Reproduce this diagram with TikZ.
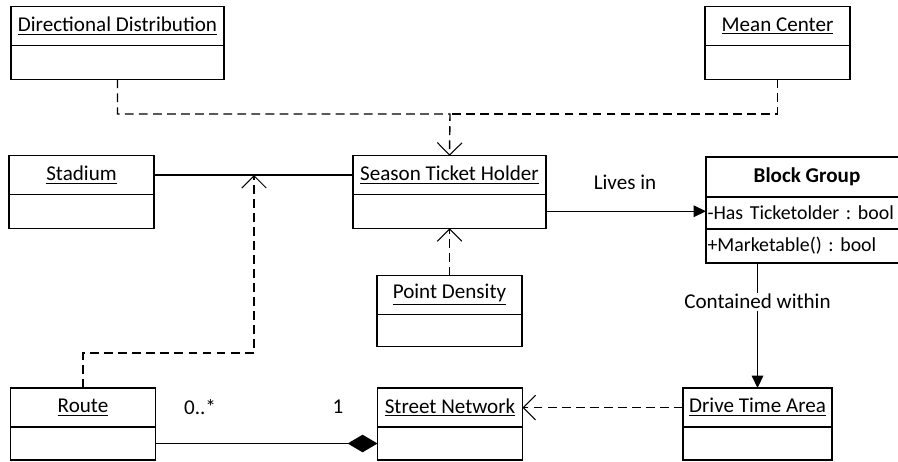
\documentclass[tikz,border=0pt]{standalone}
\usepackage{fontspec}
\setmainfont{Carlito}
\frenchspacing
\usetikzlibrary{positioning,arrows.meta}

\tikzset{
    classname/.style={draw, line width=0.8pt, outer sep=0pt, minimum width=2.9cm,
        minimum height=0.77cm, inner sep=1pt},
    classbody/.style={draw, line width=0.8pt, outer sep=0pt, minimum width=2.9cm,
        minimum height=0.68cm, inner sep=0pt},
    member/.style={font=\fontsize{11.3}{13}\selectfont, align=left, text width=3.98cm},
    depend/.style={line width=0.8pt, dash pattern=on 5pt off 3pt,
        -{Straight Barb[length=7pt,width=14pt,line width=0.6pt]}},
    assoc/.style={line width=0.8pt, -{Triangle[length=7pt,width=6.5pt]}},
    compose/.style={line width=0.8pt, -{Diamond[length=17pt,width=10pt]}},
    every node/.style={font=\fontsize{12}{14}\selectfont}
}

\begin{document}
\begin{tikzpicture}[x=0.02cm, y=-0.02cm]

    \useasboundingbox (0,0) rectangle (898,461);

    \node (dd) [classname, minimum width=4.26cm] at (117.5,26) {\underline{Directional Distribution}};
    \node (dd-b) [classbody, minimum width=4.26cm, below=0pt of dd] {};
    \node (mc) [classname] at (777.5,26) {\underline{Mean Center}};
    \node (mc-b) [classbody, below=0pt of mc] {};
    \node (stadium) [classname] at (81.5,175) {\underline{Stadium}};
    \node (stadium-b) [classbody, below=0pt of stadium] {};
    \node (sth) [classname, minimum width=3.86cm] at (449.5,175) {\underline{Season Ticket Holder}};
    \node (sth-b) [classbody, minimum width=3.86cm, below=0pt of sth] {};
    \node (pd) [classname] at (449.5,295) {\underline{Point Density}};
    \node (pd-b) [classbody, minimum height=0.64cm, below=0pt of pd] {};
    \node (bg) [classname, minimum width=4.04cm, minimum height=0.8cm] at (807,177) {\textbf{Block Group}};
    \node (bg-a) [classbody, member, minimum width=4.04cm, minimum height=0.64cm,
        below=0pt of bg] {\mbox{-Has Ticketolder : bool}};
    \node (bg-m) [classbody, member, minimum width=4.04cm,
        below=0pt of bg-a] {\mbox{+Marketable() : bool}};
    \node (route) [classname, minimum height=0.78cm] at (83,407.5) {\underline{Route}};
    \node (route-b) [classbody, minimum height=0.66cm, below=0pt of route] {};
    \node (sn) [classname, minimum height=0.78cm] at (450,407.5) {\underline{Street Network}};
    \node (sn-b) [classbody, minimum height=0.66cm, below=0pt of sn] {};
    \node (dta) [classname, minimum width=2.98cm, minimum height=0.78cm] at (757.5,407.5) {\underline{Drive Time Area}};
    \node (dta-b) [classbody, minimum width=2.98cm, minimum height=0.66cm, below=0pt of dta] {};

    \coordinate (join) at (450,114);
    \coordinate (tap) at (254,175);
    \coordinate (rbend) at (83,353);

    \node (livesin) at (625,182) {Lives in};
    \node (many) at (200,407) {0..*};
    \node (one) at (338,407) {1};

    \draw[depend] (dd-b.south) |- (join) -- (sth.north);
    \draw[line width=0.8pt, dash pattern=on 5pt off 3pt] (mc-b.south) |- (join);
    \draw[line width=0.8pt] (stadium.east) -- (sth.west);
    \draw[depend] (route.north) -- (rbend) -| (tap);
    \draw[depend] (pd.north) -- (sth-b.south);
    \draw[assoc] (sth-b.east) -- (sth-b.east -| bg-a.west);
    \draw[assoc] (bg-m.south -| dta.north) -- node[pos=0.31, fill=white, inner sep=1pt] {Contained within} (dta.north);
    \draw[depend] (dta.west) -- (sn.east);
    \draw[compose] (route-b.east) -- (sn-b.west);

\end{tikzpicture}
\end{document}
